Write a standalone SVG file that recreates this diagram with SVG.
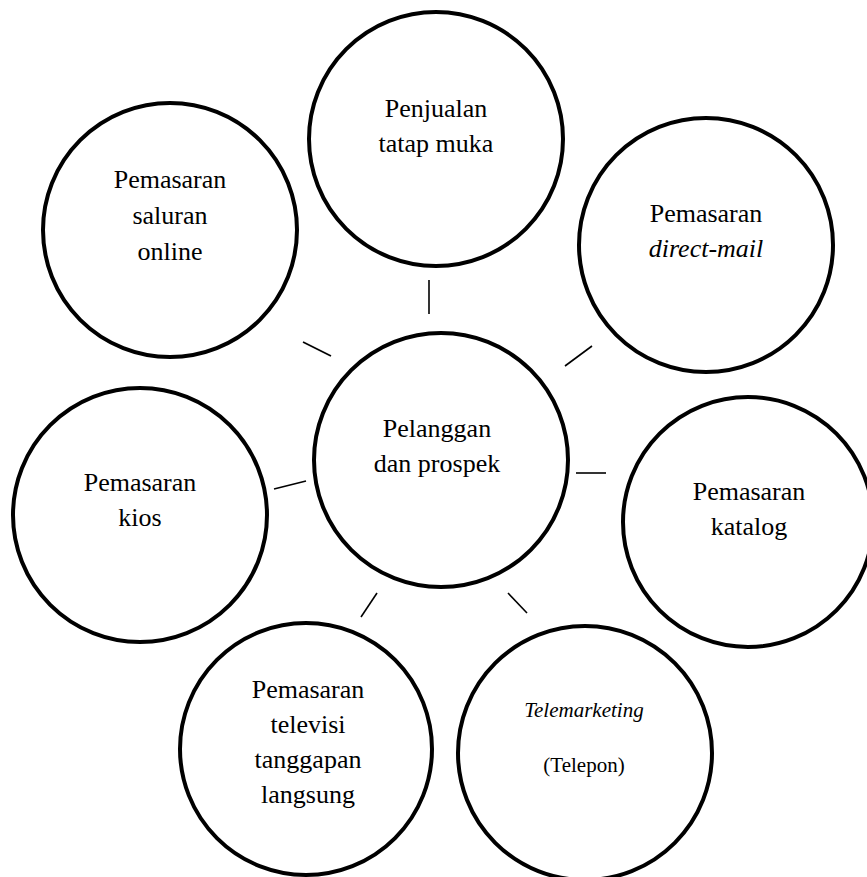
<svg xmlns="http://www.w3.org/2000/svg" width="867" height="877" viewBox="0 0 867 877">
<style>
.node circle{fill:#fff;stroke:#000;stroke-width:4}
text{font-family:'Liberation Serif','Times New Roman','DejaVu Serif',serif;font-size:26px;fill:#000;text-anchor:middle}
.it{font-style:italic}
.sm{font-size:21px}
#connectors line{stroke:#000;stroke-width:1.6}
</style>
<rect width="867" height="877" fill="#fff"/>
<g id="connectors">
<line x1="429" y1="280" x2="429" y2="314"/>
<line x1="303" y1="342" x2="331" y2="356"/>
<line x1="565" y1="366" x2="592" y2="346"/>
<line x1="274" y1="489" x2="306" y2="481"/>
<line x1="576" y1="473" x2="606" y2="473"/>
<line x1="377" y1="593" x2="361" y2="617"/>
<line x1="508" y1="593" x2="527" y2="613"/>
</g>
<g id="penjualan" class="node">
<circle cx="436" cy="139" r="127"/>
<text x="436" y="117">Penjualan</text>
<text x="436" y="152">tatap muka</text>
</g>
<g id="online" class="node">
<circle cx="170" cy="230" r="127"/>
<text x="170" y="188">Pemasaran</text>
<text x="170" y="224">saluran</text>
<text x="170" y="260">online</text>
</g>
<g id="directmail" class="node">
<circle cx="706" cy="245" r="127"/>
<text x="706" y="222">Pemasaran</text>
<text x="706" y="257" class="it">direct-mail</text>
</g>
<g id="pelanggan" class="node">
<circle cx="441" cy="460" r="127"/>
<text x="437" y="437">Pelanggan</text>
<text x="437" y="472">dan prospek</text>
</g>
<g id="kios" class="node">
<circle cx="140" cy="515" r="127"/>
<text x="140" y="491">Pemasaran</text>
<text x="140" y="526">kios</text>
</g>
<g id="katalog" class="node">
<circle cx="748" cy="522" r="125"/>
<text x="749" y="500">Pemasaran</text>
<text x="749" y="535">katalog</text>
</g>
<g id="televisi" class="node">
<circle cx="306" cy="749" r="126"/>
<text x="308" y="698">Pemasaran</text>
<text x="308" y="733">televisi</text>
<text x="308" y="768">tanggapan</text>
<text x="308" y="803">langsung</text>
</g>
<g id="telemarketing" class="node">
<circle cx="585" cy="753" r="127"/>
<text x="584" y="717" class="it sm">Telemarketing</text>
<text x="584" y="772" class="sm">(Telepon)</text>
</g>
</svg>
